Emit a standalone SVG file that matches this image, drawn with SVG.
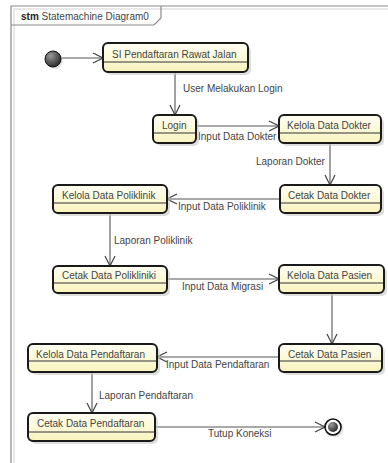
<svg xmlns="http://www.w3.org/2000/svg" width="388" height="463" viewBox="0 0 388 463">
<style>
.frame{fill:none;stroke:#8a8a8a;stroke-width:1.2}
.box{fill:url(#yel);stroke:#1a1a1a;stroke-width:2}
.shadow{fill:#c8c8c8;opacity:0.6}
.sep{stroke:#333;stroke-width:1}
.nt{font-family:"Liberation Sans",Arial,sans-serif;font-size:10px;fill:#444}
.lbl{font-family:"Liberation Sans",Arial,sans-serif;font-size:10px;fill:#444}
.edge{fill:none;stroke:#555;stroke-width:1.1;marker-end:url(#arr)}
</style>
<defs>
<linearGradient id="yel" x1="0" y1="0" x2="0" y2="1">
<stop offset="0" stop-color="#fffff4"/>
<stop offset="1" stop-color="#f9f3bd"/>
</linearGradient>
<radialGradient id="dark" cx="0.35" cy="0.3" r="0.8">
<stop offset="0" stop-color="#9a9a9a"/>
<stop offset="1" stop-color="#1e1e1e"/>
</radialGradient>
<marker id="arr" markerUnits="userSpaceOnUse" markerWidth="12" markerHeight="12" refX="11" refY="6" orient="auto">
<path d="M1,1 L11,6 L1,11" fill="none" stroke="#444" stroke-width="1.2"/>
</marker>
</defs>
<rect width="388" height="463" fill="#ffffff"/>
<g id="frame">
<path d="M14,463 V9 H388" fill="none" stroke="#e2e2e2" stroke-width="1.5"/>
<path class="frame" d="M11,463 V6 H388"/>
<path class="frame" d="M11,25 H154 L161,18 V6"/>
<text x="21" y="20" class="nt" fill="#222"><tspan font-weight="bold" fill="#222">stm</tspan> Statemachine Diagram0</text>
</g>
<g id="connectors">
<path class="edge" d="M61,58 H103"/>
<path class="edge" d="M175,72 V115"/>
<path class="edge" d="M196,126 H279"/>
<path class="edge" d="M330,143 V185"/>
<path class="edge" d="M280,199 H167"/>
<path class="edge" d="M110,213 V266"/>
<path class="edge" d="M167,279 H279"/>
<path class="edge" d="M332,293 V344"/>
<path class="edge" d="M279,357 H157"/>
<path class="edge" d="M92,372 V413"/>
<path class="edge" d="M155,427 H325"/>
<text class="lbl" x="183" y="92">User Melakukan Login</text>
<text class="lbl" x="198" y="140">Input Data Dokter</text>
<text class="lbl" x="256" y="165">Laporan Dokter</text>
<text class="lbl" x="178" y="210">Input Data Poliklinik</text>
<text class="lbl" x="114" y="244">Laporan Poliklinik</text>
<text class="lbl" x="182" y="290">Input Data Migrasi</text>
<text class="lbl" x="166" y="368">Input Data Pendaftaran</text>
<text class="lbl" x="99" y="399">Laporan Pendaftaran</text>
<text class="lbl" x="208" y="437">Tutup Koneksi</text>
</g>
<g id="initial">
<circle cx="55" cy="61" r="8" fill="#d0d0d0" opacity="0.6"/>
<circle cx="53" cy="59" r="8" fill="url(#dark)" stroke="#111" stroke-width="1"/>
</g>
<g id="final">
<circle cx="335" cy="429" r="8.5" fill="#d0d0d0" opacity="0.6"/>
<circle cx="333" cy="427" r="8" fill="#fff" stroke="#111" stroke-width="1.6"/>
<circle cx="333" cy="427" r="5" fill="url(#dark)"/>
</g>
<g id="si">
<rect class="shadow" x="106" y="46" width="145" height="29" rx="5"/>
<rect class="box" x="103" y="43" width="145" height="29" rx="5"/>
<line class="sep" x1="104" y1="62" x2="247" y2="62"/>
<text class="nt" x="112" y="58">SI Pendaftaran Rawat Jalan</text>
</g>
<g id="login">
<rect class="shadow" x="156" y="118" width="43" height="28" rx="5"/>
<rect class="box" x="153" y="115" width="43" height="28" rx="5"/>
<line class="sep" x1="154" y1="133" x2="195" y2="133"/>
<text class="nt" x="162" y="129">Login</text>
</g>
<g id="kelolaDokter">
<rect class="shadow" x="282" y="118" width="102" height="28" rx="5"/>
<rect class="box" x="279" y="115" width="102" height="28" rx="5"/>
<line class="sep" x1="280" y1="133" x2="380" y2="133"/>
<text class="nt" x="287" y="129">Kelola Data Dokter</text>
</g>
<g id="cetakDokter">
<rect class="shadow" x="283" y="188" width="101" height="28" rx="5"/>
<rect class="box" x="280" y="185" width="101" height="28" rx="5"/>
<line class="sep" x1="281" y1="203" x2="380" y2="203"/>
<text class="nt" x="288" y="199">Cetak Data Dokter</text>
</g>
<g id="kelolaPoli">
<rect class="shadow" x="56" y="188" width="114" height="28" rx="5"/>
<rect class="box" x="53" y="185" width="114" height="28" rx="5"/>
<line class="sep" x1="54" y1="203" x2="166" y2="203"/>
<text class="nt" x="62" y="199">Kelola Data Poliklinik</text>
</g>
<g id="cetakPoli">
<rect class="shadow" x="56" y="269" width="114" height="27" rx="5"/>
<rect class="box" x="53" y="266" width="114" height="27" rx="5"/>
<line class="sep" x1="54" y1="283" x2="166" y2="283"/>
<text class="nt" x="62" y="279">Cetak Data Polikliniki</text>
</g>
<g id="kelolaPasien">
<rect class="shadow" x="282" y="268" width="105" height="28" rx="5"/>
<rect class="box" x="279" y="265" width="105" height="28" rx="5"/>
<line class="sep" x1="280" y1="283" x2="383" y2="283"/>
<text class="nt" x="287" y="279">Kelola Data Pasien</text>
</g>
<g id="cetakPasien">
<rect class="shadow" x="282" y="347" width="103" height="28" rx="5"/>
<rect class="box" x="279" y="344" width="103" height="28" rx="5"/>
<line class="sep" x1="280" y1="361" x2="381" y2="361"/>
<text class="nt" x="288" y="358">Cetak Data Pasien</text>
</g>
<g id="kelolaPendaftaran">
<rect class="shadow" x="31" y="347" width="129" height="28" rx="5"/>
<rect class="box" x="28" y="344" width="129" height="28" rx="5"/>
<line class="sep" x1="29" y1="361" x2="156" y2="361"/>
<text class="nt" x="36" y="358">Kelola Data Pendaftaran</text>
</g>
<g id="cetakPendaftaran">
<rect class="shadow" x="31" y="416" width="127" height="28" rx="5"/>
<rect class="box" x="28" y="413" width="127" height="28" rx="5"/>
<line class="sep" x1="29" y1="432" x2="154" y2="432"/>
<text class="nt" x="37" y="427">Cetak Data Pendaftaran</text>
</g>
</svg>
